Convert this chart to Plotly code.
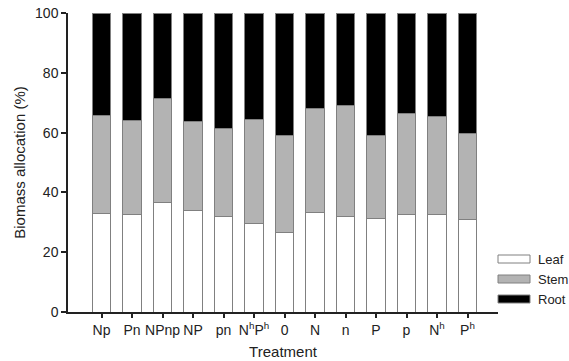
import plotly.graph_objects as go

treatments = ["Np", "Pn", "NPnp", "NP", "pn", "N<sup>h</sup>P<sup>h</sup>", "0",
              "N", "n", "P", "p", "N<sup>h</sup>", "P<sup>h</sup>"]
leaf = [32.8, 32.5, 36.7, 33.9, 31.9, 29.7, 26.5, 33.4, 32.1, 31.4, 32.5, 32.7, 30.8]
leaf_plus_stem = [65.7, 64.2, 71.3, 63.8, 61.5, 64.5, 58.9, 68.2, 69.1, 58.9, 66.5, 65.4, 59.6]
stem = [round(a - b, 2) for a, b in zip(leaf_plus_stem, leaf)]
root = [round(100 - a, 2) for a in leaf_plus_stem]

series = [("Leaf", leaf, "white"), ("Stem", stem, "#b3b3b3"), ("Root", root, "black")]

x = list(range(len(treatments)))
fig = go.Figure()
for name, vals, col in series:
    fig.add_trace(go.Bar(x=x, y=vals, name=name, width=0.61,
                         marker=dict(color=col, line=dict(color="#808080", width=1)),
                         showlegend=False))

fig.update_layout(
    barmode="stack",
    width=569, height=361,
    margin=dict(l=68, r=71, t=13, b=49),
    plot_bgcolor="white", paper_bgcolor="white",
    font=dict(family="Liberation Sans, Arial", size=14, color="#222"),
)
fig.update_xaxes(
    range=[-1.1, 13.0], tickmode="array", tickvals=x, ticktext=treatments,
    showline=True, linecolor="#222", linewidth=1.5, ticks="outside", ticklen=4,
    tickcolor="#222", tickwidth=1.5, showgrid=False, zeroline=False,
    title=dict(text="Treatment", font=dict(size=15), standoff=10),
    tickfont=dict(size=14), automargin=False,
)
fig.update_yaxes(
    range=[0, 100], tickvals=[0, 20, 40, 60, 80, 100],
    showline=True, linecolor="#222", linewidth=1.5, ticks="outside", ticklen=5,
    tickcolor="#222", tickwidth=1.5, showgrid=False, zeroline=False,
    title=dict(text="Biomass allocation (%)", font=dict(size=15), standoff=6),
    tickfont=dict(size=14), automargin=False,
)

# manual legend (wide swatches as in the reference)
leg_y = [259, 279, 299]
for (name, vals, col), yy in zip(series, leg_y):
    fig.add_shape(type="rect", xref="paper", yref="paper",
                  x0=(498 - 68) / 430, x1=(530 - 68) / 430,
                  y0=(312 - (yy + 4)) / 299, y1=(312 - (yy - 4)) / 299,
                  fillcolor=col, line=dict(color="#808080", width=1))
    fig.add_annotation(xref="paper", yref="paper", x=(536 - 68) / 430,
                       y=(312 - yy) / 299, text=name, showarrow=False,
                       xanchor="left", yanchor="middle", font=dict(size=13))

fig.write_html("out.html")
